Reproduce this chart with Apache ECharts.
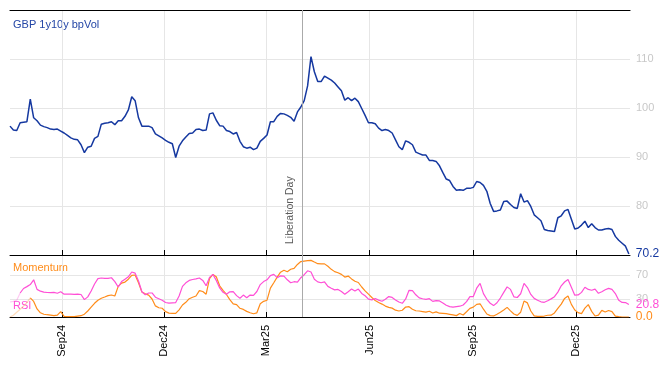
<!DOCTYPE html>
<html><head><meta charset="utf-8">
<script src="https://cdn.jsdelivr.net/npm/echarts@6/dist/echarts.min.js"></script>
<style>html,body{margin:0;padding:0;background:#fff}#c{width:668px;height:366px}</style>
</head><body><div id="c"></div>
<script>
// ---- data ----
const startDate = [2024, 7, 17];   // first observation (y, m, d)
const stepDays = 3;                // spacing of observations
const axisStart = [2024, 7, 17];
const axisEnd = [2026, 1, 18];

const volValues = [
  96.3, 95.5, 95.4, 97.0, 97.1, 97.2, 101.8, 98.0, 97.4, 96.5,
  96.2, 96.0, 95.7, 95.6, 95.7, 95.3, 94.9, 94.4, 93.9, 93.6,
  93.5, 92.5, 90.9, 92.0, 92.2, 93.8, 94.2, 96.7, 96.9, 97.0,
  97.2, 96.6, 97.4, 97.4, 98.3, 99.6, 102.3, 101.5, 98.0, 96.3,
  96.3, 96.3, 96.0, 94.7, 94.3, 93.9, 93.4, 93.0, 92.7, 89.9,
  92.2, 93.3, 94.1, 94.8, 94.9, 95.6, 95.7, 95.4, 95.5, 98.8,
  99.0, 97.5, 96.4, 96.3, 95.4, 95.2, 94.7, 95.0, 93.2, 92.1,
  91.8, 92.0, 91.5, 91.8, 93.2, 93.8, 94.5, 97.2, 97.2, 98.3,
  98.9, 98.8, 98.5, 98.1, 97.3, 99.2, 100.2, 101.5, 104.5, 110.5,
  107.4, 105.4, 105.4, 106.5, 106.1, 105.7, 105.1, 104.3, 103.5, 101.6,
  102.1, 101.5, 102.0, 101.3, 99.9, 98.5, 97.0, 97.0, 96.8, 95.9,
  95.4, 95.6, 95.4, 94.9, 93.5, 92.1, 91.5, 93.3, 93.0, 92.5,
  91.0, 90.7, 90.4, 90.4, 89.3, 89.3, 89.1, 88.2, 86.8, 85.5,
  85.2, 84.0, 83.2, 83.3, 83.2, 83.6, 83.6, 83.8, 85.0, 84.8,
  84.2, 83.0, 80.5, 78.9, 79.0, 79.2, 80.9, 81.0, 80.3, 79.7,
  79.5, 82.5, 80.8, 81.1, 79.9, 78.2, 77.6, 77.0, 75.2, 75.0,
  74.9, 74.8, 77.6, 78.0, 79.0, 79.3, 77.3, 75.3, 75.5, 76.1,
  76.9, 75.6, 76.4, 75.6, 75.1, 75.1, 75.3, 75.4, 75.2, 73.8,
  73.0, 72.4, 71.8, 70.2
];
const momentumValues = [
  0, 3, 8, 13, 18, 24, 32, 26, 13.5, 7,
  4.6, 3.8, 3.2, 2.3, 3.2, 9, 1, 0.6, 0.6, 0.6,
  1.4, 2.2, 4.7, 10, 16.5, 22.8, 28, 31.2, 33.3, 35.6,
  36.7, 35, 51, 56.5, 58.2, 63, 69.5, 70, 57, 41.5,
  38.5, 36.5, 30, 18.5, 15.4, 14.6, 9, 6.5, 6.1, 6.1,
  12, 20, 24.5, 30.5, 33, 35, 44, 42.5, 38, 64,
  71, 67, 52, 44.5, 37.5, 29, 22, 20.6, 14.5, 12.6,
  9.4, 7.1, 5.4, 7, 22, 26.1, 28, 48, 57, 66.5,
  74.7, 77.8, 75.5, 79.5, 81, 87.6, 92.4, 93.2, 94, 94.3,
  91.5, 88.8, 88.5, 88.5, 84.5, 79.4, 75.6, 73.7, 71, 66.5,
  68.2, 63.5, 59.5, 57.5, 50, 43.5, 38, 32.5, 27.5, 24.2,
  21.5, 18.2, 16, 14.8, 11.4, 10, 11.2, 16.6, 17.2, 13,
  10.4, 10, 9.1, 8, 9.6, 6.6, 8.5, 6.3, 6.1, 5.6,
  4.5, 3.4, 2.3, 5.8, 3.4, 8.7, 14.4, 16.5, 21, 22,
  13, 5, 2.3, 1.8, 4.6, 7.8, 11.7, 16, 10.3, 5,
  2.8, 8, 26.5, 23.5, 10, 2, 1.1, 1.2, 1.6, 2.9,
  3, 6.7, 14.4, 21.5, 31, 35, 21, 11.6, 7.3, 5.7,
  14.8, 20.6, 9.4, 1.7, 3, 11, 8.4, 10.9, 9, 1.5,
  0.5, 0, 0, 0
];
const rsiValues = [
  25, 26, 28, 40, 47.5, 50.6, 54, 62, 46, 43,
  41.5, 40.8, 40.5, 41, 39.6, 42, 38, 38.2, 38.2, 37.8,
  38, 37.5, 29, 33.5, 43.3, 55, 64, 65, 64.4, 64.4,
  65.4, 59, 50, 59, 63, 67, 75, 73, 60, 42,
  37, 40, 40, 33, 30.5, 28, 24.2, 23, 23.5, 24,
  35, 51, 57, 61, 62.5, 63.5, 65, 61, 52, 66,
  71, 61, 48.5, 41.2, 37.8, 42, 42.2, 35.6, 31.2, 36.5,
  32.2, 36.5, 36, 42.5, 54, 59, 62, 69, 71, 65.5,
  68.5, 68, 62, 57, 58.8, 58, 65.5, 70.5, 77, 75,
  63, 58.5, 57, 58.5, 51, 48, 45.2, 46, 42.5, 38,
  42.2, 46.6, 43.3, 46.5, 39.2, 35.4, 29.8, 28.5, 30.8, 28.1,
  26.3, 29.5, 34, 32.6, 28.5, 25, 22.8, 30, 44.5, 44,
  37, 31.8, 30.4, 29.5, 30.5, 26, 27.2, 26.8, 23.5, 19.5,
  17.2, 16.5, 17.3, 18, 20, 25.5, 34, 34, 48, 56,
  39, 29.5, 22.9, 19, 23.7, 31.6, 41, 50.2, 46, 33.6,
  32.5, 38.7, 56, 49, 37.6, 31, 27.8, 25.3, 24.5, 27,
  30.2, 33.8, 41.5, 52, 58.3, 62.6, 49.5, 36.3, 36.7, 41,
  49.5, 46, 44.5, 46.5, 39.5, 42, 45.3, 47.7, 46, 39,
  28, 24.3, 24, 20.8
];
const momentumWarmup = 6;   // first observations drawn faded
const rsiWarmup = 3;
const tickDates = ['2024-09-01', '2024-12-01', '2025-03-01', '2025-06-01', '2025-09-01', '2025-12-01'];
const tickLabels = ['Sep24', 'Dec24', 'Mar25', 'Jun25', 'Sep25', 'Dec25'];
const eventDate = '2025-04-02';
const eventLabel = 'Liberation Day';
const titleText = 'GBP 1y10y bpVol';
const momentumText = 'Momentum';
const rsiText = 'RSI';
const volTicks = [80, 90, 100, 110];
const indicatorTicks = [30, 70];

// ---- build ----
const FONT = 'Liberation Sans, Arial, sans-serif';
const BLUE = '#1538a0', ORANGE = '#ff8c1a', PINK = '#ff4fd6';
const DAY = 86400000;
function ts(a) { return Date.UTC(a[0], a[1] - 1, a[2]) / DAY; }
function tsStr(s) { const p = s.split('-').map(Number); return ts(p); }
const dates = volValues.map((_, i) => ts(startDate) + i * stepDays);
const pairs = vals => vals.map((v, i) => [dates[i], v]);
const tickTs = tickDates.map(tsStr);
const xMin = ts(axisStart), xMax = ts(axisEnd);
const eventTs = tsStr(eventDate);

const volData = pairs(volValues);
const momData = pairs(momentumValues);
const rsiData = pairs(rsiValues);

const gridLine = { show: true, lineStyle: { color: '#e6e6e6', width: 1 } };
function baseX(extra) {
  return Object.assign({
    type: 'value', min: xMin, max: xMax,
    axisLine: { show: true, onZero: false, lineStyle: { color: '#000', width: 1 } },
    axisTick: { show: true, inside: true, length: 5, customValues: tickTs, lineStyle: { color: '#000' } },
    splitLine: gridLine,
    axisLabel: { show: false, customValues: tickTs }
  }, extra);
}

const option = {
  animation: false,
  backgroundColor: '#fff',
  grid: [
    { left: 10, right: 38, top: 10, height: 245 },
    { left: 10, right: 38, top: 255, height: 62 }
  ],
  xAxis: [
    baseX({ gridIndex: 0, position: 'bottom' }),
    { type: 'value', gridIndex: 0, position: 'top', min: xMin, max: xMax,
      axisLine: { show: true, onZero: false, lineStyle: { color: '#000', width: 1.2 } },
      axisTick: { show: false }, axisLabel: { show: false }, splitLine: { show: false } },
    baseX({ gridIndex: 1, position: 'bottom',
      axisLabel: { show: true, customValues: tickTs, rotate: 90, margin: 8, color: '#000', fontSize: 11, fontFamily: FONT,
        formatter: function (v) {
          let best = 0, bd = Infinity;
          tickTs.forEach((t, k) => { const d = Math.abs(t - v); if (d < bd) { bd = d; best = k; } });
          return tickLabels[best];
        } } })
  ],
  yAxis: [
    { type: 'value', gridIndex: 0, position: 'right', min: 70, max: 120,
      axisLine: { show: false },
      axisTick: { show: false, customValues: volTicks },
      axisLabel: { customValues: volTicks, color: '#c8c8c8', fontSize: 11, fontFamily: FONT, margin: 6 },
      splitLine: gridLine },
    { type: 'value', gridIndex: 1, position: 'right', min: 0, max: 103.3,
      axisLine: { show: false },
      axisTick: { show: false, customValues: indicatorTicks },
      axisLabel: { customValues: indicatorTicks, color: '#c8c8c8', fontSize: 11, fontFamily: FONT, margin: 6 },
      splitLine: gridLine }
  ],
  series: [
    { name: momentumText + ' warm-up', type: 'line', xAxisIndex: 2, yAxisIndex: 1, data: momData.slice(0, momentumWarmup + 1),
      showSymbol: false, silent: true, lineStyle: { color: ORANGE, width: 1.2, opacity: 0.3 } },
    { name: rsiText + ' warm-up', type: 'line', xAxisIndex: 2, yAxisIndex: 1, data: rsiData.slice(0, rsiWarmup + 1),
      showSymbol: false, silent: true, lineStyle: { color: PINK, width: 1.2, opacity: 0.3 } },
    { name: momentumText, type: 'line', xAxisIndex: 2, yAxisIndex: 1, data: momData.slice(momentumWarmup),
      showSymbol: false, color: ORANGE, lineStyle: { color: ORANGE, width: 1.2 },
      endLabel: { show: true, formatter: p => p.value[1].toFixed(1), color: ORANGE, fontSize: 12, fontFamily: FONT, distance: 7 },
      markLine: { silent: true, symbol: 'none', animation: false, label: { show: false },
        lineStyle: { color: '#aaaaaa', width: 1, type: 'solid' }, data: [{ xAxis: eventTs }] } },
    { name: rsiText, type: 'line', xAxisIndex: 2, yAxisIndex: 1, data: rsiData.slice(rsiWarmup),
      showSymbol: false, color: PINK, lineStyle: { color: PINK, width: 1.2 },
      endLabel: { show: true, formatter: p => p.value[1].toFixed(1), color: PINK, fontSize: 12, fontFamily: FONT, distance: 7 } },
    { name: titleText, type: 'line', xAxisIndex: 0, yAxisIndex: 0, data: volData,
      showSymbol: false, color: BLUE, lineStyle: { color: BLUE, width: 1.5 },
      endLabel: { show: true, formatter: p => p.value[1].toFixed(1), color: BLUE, fontSize: 12, fontFamily: FONT, distance: 7 },
      markLine: { silent: true, symbol: 'none', animation: false,
        lineStyle: { color: '#aaaaaa', width: 1, type: 'solid' },
        label: { show: true, position: 'insideStartTop', formatter: eventLabel, color: '#5a5a5a', fontSize: 10.5, fontFamily: FONT, distance: [11, 6] },
        data: [{ xAxis: eventTs }] } }
  ],
  graphic: [
    { type: 'text', left: 13, top: 19, style: { text: titleText, fill: '#2446a6', font: '11px ' + FONT } },
    { type: 'text', left: 13, top: 262, style: { text: momentumText, fill: ORANGE, font: '11px ' + FONT } },
    { type: 'text', left: 13, top: 300, style: { text: rsiText, fill: PINK, font: '11px ' + FONT } }
  ]
};
const chart = echarts.init(document.getElementById('c'), null, { renderer: 'canvas' });
chart.setOption(option);
</script></body></html>
